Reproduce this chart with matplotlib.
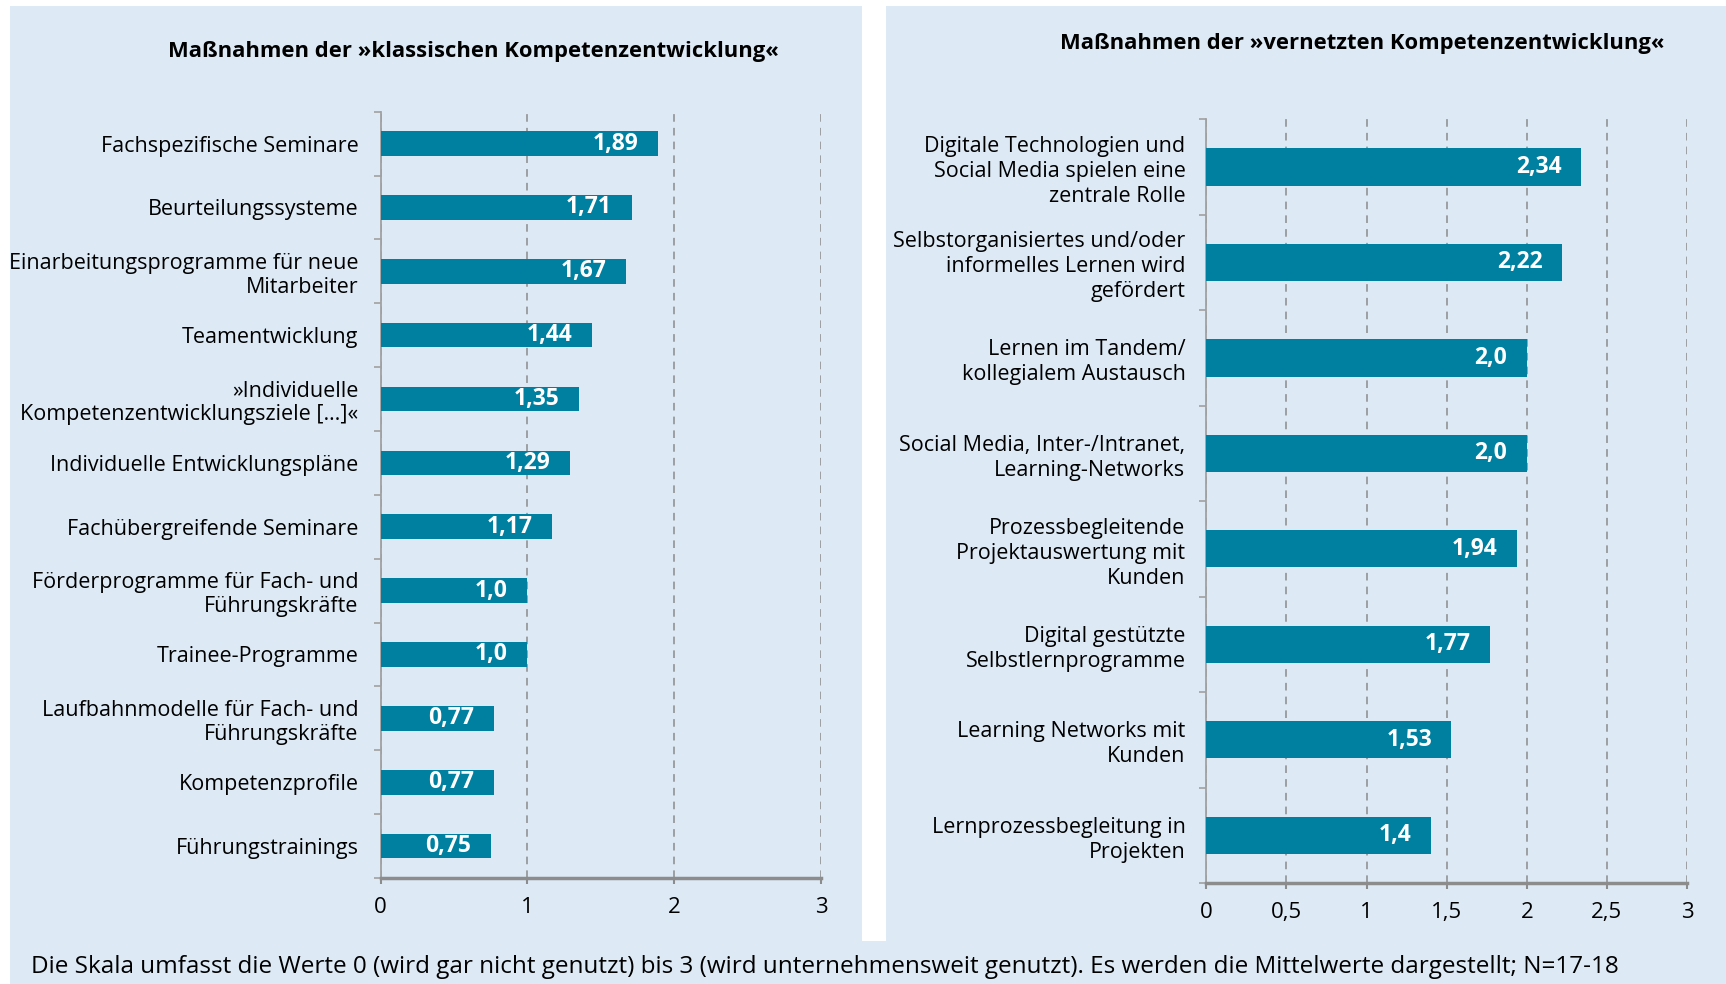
import matplotlib
matplotlib.use("Agg")
import matplotlib.pyplot as plt
from matplotlib.patches import Rectangle
from matplotlib.ticker import FixedLocator, FuncFormatter

plt.rcParams['font.family'] = ['Open Sans', 'DejaVu Sans']

# data
left_title = "Maßnahmen der »klassischen Kompetenzentwicklung«"
left_labels = ["Fachspezifische Seminare", "Beurteilungssysteme",
               "Einarbeitungsprogramme für neue\nMitarbeiter", "Teamentwicklung",
               "»Individuelle\nKompetenzentwicklungsziele […]«",
               "Individuelle Entwicklungspläne", "Fachübergreifende Seminare",
               "Förderprogramme für Fach- und\nFührungskräfte", "Trainee-Programme",
               "Laufbahnmodelle für Fach- und\nFührungskräfte", "Kompetenzprofile",
               "Führungstrainings"]
left_values = [1.89, 1.71, 1.67, 1.44, 1.35, 1.29, 1.17, 1.0, 1.0, 0.77, 0.77, 0.75]
left_ticks = [0, 1, 2, 3]

right_title = "Maßnahmen der »vernetzten Kompetenzentwicklung«"
right_labels = ["Digitale Technologien und\nSocial Media spielen eine\nzentrale Rolle",
                "Selbstorganisiertes und/oder\ninformelles Lernen wird\ngefördert",
                "Lernen im Tandem/\nkollegialem Austausch",
                "Social Media, Inter-/Intranet,\nLearning-Networks",
                "Prozessbegleitende\nProjektauswertung mit\nKunden",
                "Digital gestützte\nSelbstlernprogramme",
                "Learning Networks mit\nKunden",
                "Lernprozessbegleitung in\nProjekten"]
right_values = [2.34, 2.22, 2.0, 2.0, 1.94, 1.77, 1.53, 1.4]
right_ticks = [0, 0.5, 1, 1.5, 2, 2.5, 3]

footnote = ("Die Skala umfasst die Werte 0 (wird gar nicht genutzt) bis 3 "
            "(wird unternehmensweit genutzt). Es werden die Mittelwerte dargestellt; N=17-18")

BG = '#ddeaf6'
BAR = '#0080a0'
W, H = 1726, 984

fig = plt.figure(figsize=(W / 100, H / 100), dpi=100, facecolor='white')

# panel backgrounds (pixel coords from top-left)
def px_rect(x0, y0, x1, y1, color):
    fig.patches.append(Rectangle((x0 / W, 1 - y1 / H), (x1 - x0) / W, (y1 - y0) / H,
                                 transform=fig.transFigure, facecolor=color,
                                 edgecolor='none', zorder=-10))

px_rect(10, 6, W, H, BG)
px_rect(862, 0, 886, 941, 'white')


def comma(v, pos=None):
    s = f"{v:g}"
    return s.replace('.', ',')


def panel(rect, labels, values, ticks, bar_h, label_pad, linesp):
    ax = fig.add_axes(rect)
    ax.set_facecolor('none')
    n = len(labels)
    y = list(range(n))
    ax.barh(y, values, height=bar_h, color=BAR, zorder=3)
    for yi, v in zip(y, values):
        ax.annotate(str(v).replace('.', ','), (v, yi), xytext=(-14, 0),
                    textcoords='offset points', ha='right', va='center',
                    color='white', fontsize=16.5, fontweight='bold', zorder=4)
    ax.set_ylim(n - 0.5, -0.5)
    ax.set_xlim(ticks[0], ticks[-1])
    ax.set_yticks(y)
    ax.set_yticklabels(labels, fontsize=15.5, linespacing=linesp)
    ax.yaxis.set_minor_locator(FixedLocator([k - 0.5 for k in range(n + 1)]))
    ax.tick_params(axis='y', which='major', length=0, pad=label_pad)
    ax.tick_params(axis='y', which='minor', length=5, color='#a0a0a0', width=1.2)
    ax.set_xticks(ticks)
    ax.xaxis.set_major_formatter(FuncFormatter(comma))
    ax.tick_params(axis='x', length=4, color='#8c8c8c', width=1.5, pad=10, labelsize=16)
    ax.grid(axis='x', color='#8c8c8c', linestyle=(0, (5, 4)), linewidth=1.1, zorder=0)
    ax.set_axisbelow(True)
    for s in ('top', 'right'):
        ax.spines[s].set_visible(False)
    ax.spines['left'].set_color('#a0a0a0')
    ax.spines['left'].set_linewidth(1.3)
    ax.spines['bottom'].set_color('#8c8c8c')
    ax.spines['bottom'].set_linewidth(2.5)
    return ax


panel([380.6 / W, 1 - 878 / H, 440.4 / W, 766.3 / H], left_labels, left_values,
      left_ticks, 0.385, 16, 1.18)
panel([1206.3 / W, 1 - 883 / H, 480.7 / W, 763.7 / H], right_labels, right_values,
      right_ticks, 0.39, 15, 1.25)

fig.text(473 / W, 1 - 52 / H, left_title, ha='center', va='center',
         fontsize=15.8, fontweight='bold')
fig.text(1362 / W, 1 - 43 / H, right_title, ha='center', va='center',
         fontsize=15.8, fontweight='bold')
fig.text(31 / W, 1 - 967 / H, footnote, ha='left', va='center', fontsize=17.5)

fig.savefig('out.png', dpi=100, facecolor='white')
